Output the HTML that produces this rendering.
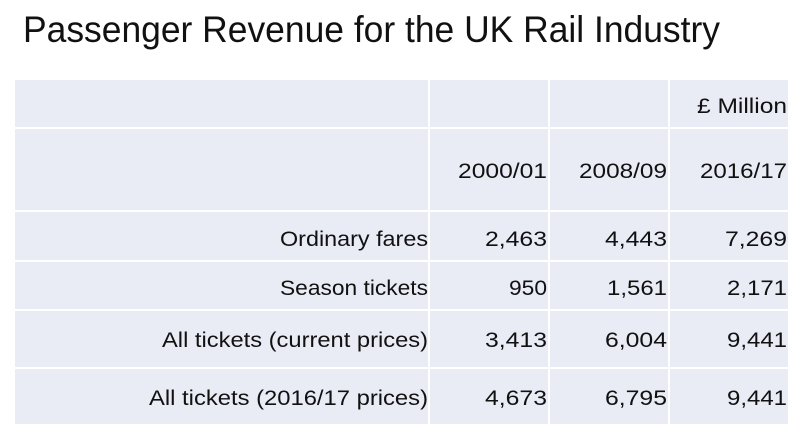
<!DOCTYPE html>
<html><head><meta charset="utf-8"><style>
html,body{margin:0;padding:0;background:#fff;width:800px;height:436px;overflow:hidden}
svg text{font-family:"Liberation Sans",sans-serif;fill:#111}
</style></head><body>
<svg width="800" height="436" viewBox="0 0 800 436" xmlns="http://www.w3.org/2000/svg">
<text x="23" y="42" font-size="37" textLength="697" lengthAdjust="spacingAndGlyphs">Passenger Revenue for the UK Rail Industry</text>
<rect x="15" y="80" width="773" height="344" fill="#e9ebf5"/>
<g stroke="#fff" stroke-width="2">
<line x1="15" y1="128" x2="788" y2="128"/>
<line x1="15" y1="211" x2="788" y2="211"/>
<line x1="15" y1="261" x2="788" y2="261"/>
<line x1="15" y1="310" x2="788" y2="310"/>
<line x1="15" y1="368" x2="788" y2="368"/>
<line x1="429" y1="80" x2="429" y2="424"/>
<line x1="549" y1="80" x2="549" y2="424"/>
<line x1="669" y1="80" x2="669" y2="424"/>
</g>
<g font-size="21" text-anchor="end">
<text x="787" y="113" textLength="90" lengthAdjust="spacingAndGlyphs">£ Million</text>
<text x="547" y="178" textLength="89" lengthAdjust="spacingAndGlyphs">2000/01</text>
<text x="667" y="178" textLength="88" lengthAdjust="spacingAndGlyphs">2008/09</text>
<text x="787" y="178" textLength="87" lengthAdjust="spacingAndGlyphs">2016/17</text>

<text x="428" y="246" textLength="148" lengthAdjust="spacingAndGlyphs">Ordinary fares</text>
<text x="547" y="246" textLength="62" lengthAdjust="spacingAndGlyphs">2,463</text>
<text x="667" y="246" textLength="62" lengthAdjust="spacingAndGlyphs">4,443</text>
<text x="787" y="246" textLength="62" lengthAdjust="spacingAndGlyphs">7,269</text>

<text x="428" y="295" textLength="148" lengthAdjust="spacingAndGlyphs">Season tickets</text>
<text x="547" y="295" textLength="38" lengthAdjust="spacingAndGlyphs">950</text>
<text x="667" y="295" textLength="60" lengthAdjust="spacingAndGlyphs">1,561</text>
<text x="787" y="295" textLength="60" lengthAdjust="spacingAndGlyphs">2,171</text>

<text x="428" y="347" textLength="266" lengthAdjust="spacingAndGlyphs">All tickets (current prices)</text>
<text x="547" y="347" textLength="62" lengthAdjust="spacingAndGlyphs">3,413</text>
<text x="667" y="347" textLength="62" lengthAdjust="spacingAndGlyphs">6,004</text>
<text x="787" y="347" textLength="60" lengthAdjust="spacingAndGlyphs">9,441</text>

<text x="428" y="405" textLength="279" lengthAdjust="spacingAndGlyphs">All tickets (2016/17 prices)</text>
<text x="547" y="405" textLength="62" lengthAdjust="spacingAndGlyphs">4,673</text>
<text x="667" y="405" textLength="62" lengthAdjust="spacingAndGlyphs">6,795</text>
<text x="787" y="405" textLength="60" lengthAdjust="spacingAndGlyphs">9,441</text>
</g>
</svg>
</body></html>
